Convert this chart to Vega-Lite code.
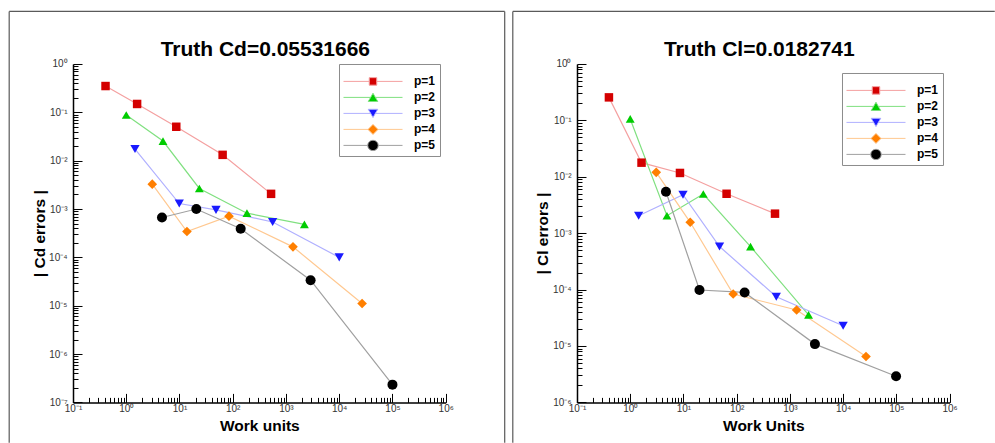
{
  "$schema": "https://vega.github.io/schema/vega-lite/v6.json",
  "background": "white",
  "autosize": {"type": "pad"},
  "padding": {"left": 8, "top": 10, "right": 0, "bottom": 0},
  "spacing": 6,
  "config": {
    "font": "Liberation Sans",
    "view": {"stroke": null},
    "axis": {
      "grid": false,
      "ticks": true,
      "tickOpacity": 1,
      "labelFont": "Liberation Sans",
      "labelFontSize": 10,
      "labelColor": "#333",
      "labelOverlap": false,
      "labelFlush": false,
      "labelBound": false,
      "tickColor": "#000",
      "tickWidth": 1,
      "domainColor": "#000",
      "domainWidth": 1.5,
      "titleFont": "Liberation Sans",
      "titleFontSize": 15.5,
      "titleFontWeight": "bold",
      "titleColor": "#000",
      "titleBaseline": "alphabetic"
    }
  },
  "resolve": {"scale": {"fill": "independent", "shape": "independent", "stroke": "independent", "size": "independent"}},
  "datasets": {
    "cd": [
      {"p": "p=1", "work": 0.408, "err": 0.35},
      {"p": "p=1", "work": 1.6, "err": 0.149},
      {"p": "p=1", "work": 8.7, "err": 0.0503},
      {"p": "p=1", "work": 64.6, "err": 0.0132},
      {"p": "p=1", "work": 525, "err": 0.00206},
      {"p": "p=2", "work": 1.0, "err": 0.088},
      {"p": "p=2", "work": 4.9, "err": 0.0255},
      {"p": "p=2", "work": 23.6, "err": 0.00266},
      {"p": "p=2", "work": 185, "err": 0.00082},
      {"p": "p=2", "work": 2218, "err": 0.00048},
      {"p": "p=3", "work": 1.46, "err": 0.0174},
      {"p": "p=3", "work": 9.9, "err": 0.0013},
      {"p": "p=3", "work": 48.5, "err": 0.00096},
      {"p": "p=3", "work": 562, "err": 0.00054},
      {"p": "p=3", "work": 10000, "err": 0.0001},
      {"p": "p=4", "work": 3.08, "err": 0.00327},
      {"p": "p=4", "work": 13.8, "err": 0.000342},
      {"p": "p=4", "work": 85, "err": 0.000713},
      {"p": "p=4", "work": 1355, "err": 0.000165},
      {"p": "p=4", "work": 26900, "err": 0.0000111},
      {"p": "p=5", "work": 4.69, "err": 0.000667},
      {"p": "p=5", "work": 20.7, "err": 0.001},
      {"p": "p=5", "work": 141, "err": 0.00039},
      {"p": "p=5", "work": 2900, "err": 0.0000337},
      {"p": "p=5", "work": 100000, "err": 2.33e-7}
    ],
    "cl": [
      {"p": "p=1", "work": 0.398, "err": 0.256},
      {"p": "p=1", "work": 1.63, "err": 0.0178},
      {"p": "p=1", "work": 8.6, "err": 0.0117},
      {"p": "p=1", "work": 64.6, "err": 0.005},
      {"p": "p=1", "work": 525, "err": 0.00222},
      {"p": "p=2", "work": 1.0, "err": 0.106},
      {"p": "p=2", "work": 4.9, "err": 0.00204},
      {"p": "p=2", "work": 23.6, "err": 0.00495},
      {"p": "p=2", "work": 182, "err": 0.00058},
      {"p": "p=2", "work": 2240, "err": 0.0000355},
      {"p": "p=3", "work": 1.44, "err": 0.00204},
      {"p": "p=3", "work": 9.8, "err": 0.0048},
      {"p": "p=3", "work": 47.6, "err": 0.00058},
      {"p": "p=3", "work": 555, "err": 0.0000748},
      {"p": "p=3", "work": 10000, "err": 0.0000229},
      {"p": "p=4", "work": 3.08, "err": 0.012},
      {"p": "p=4", "work": 13.4, "err": 0.00156},
      {"p": "p=4", "work": 86, "err": 0.0000836},
      {"p": "p=4", "work": 1337, "err": 0.0000435},
      {"p": "p=4", "work": 26900, "err": 0.0000065},
      {"p": "p=5", "work": 4.69, "err": 0.00544},
      {"p": "p=5", "work": 20, "err": 0.0000984},
      {"p": "p=5", "work": 141, "err": 0.0000891},
      {"p": "p=5", "work": 2950, "err": 0.0000108},
      {"p": "p=5", "work": 98800, "err": 0.0000029}
    ]
  },
  "hconcat": [
    {
      "width": 372.7,
      "height": 338.4,
      "title": {"text": "Truth Cd=0.05531666", "frame": "group", "anchor": "middle", "font": "Liberation Sans", "fontSize": 21, "fontWeight": "bold", "color": "#000", "offset": -48.75, "dx": 6},
      "resolve": {"axis": {"x": "independent", "y": "independent"}, "scale": {"fill": "independent", "shape": "independent", "stroke": "independent", "size": "independent"}},
      "layer": [
        {
          "data": {"name": "cd"},
          "mark": {"type": "line", "strokeWidth": 1.2},
          "encoding": {
            "x": {"field": "work", "type": "quantitative", "scale": {"type": "log", "domain": [0.1, 1000000], "nice": false},
              "axis": {
                "orient": "bottom", "title": "Work units", "titleY": 28.3,
                "values": [0.1, 1, 10, 100, 1000, 10000, 100000, 1000000],
                "labelExpr": "'10' + (round(log(datum.value)/LN10) < 0 ? '⁻' : '') + substring('⁰¹²³⁴⁵⁶⁷⁸⁹', abs(round(log(datum.value)/LN10)), abs(round(log(datum.value)/LN10)) + 1)",
                "labelPadding": 10,
                "ticks": true,
                "tickSize": -9
              }},
            "y": {"field": "err", "type": "quantitative", "scale": {"type": "log", "domain": [1e-7, 1], "nice": false},
              "axis": {
                "orient": "left", "title": "| Cd errors |", "titleX": -29,
                "values": [1e-7, 1e-6, 1e-5, 0.0001, 0.001, 0.01, 0.1, 1],
                "labelExpr": "'10' + (round(log(datum.value)/LN10) < 0 ? '⁻' : '') + substring('⁰¹²³⁴⁵⁶⁷⁸⁹', abs(round(log(datum.value)/LN10)), abs(round(log(datum.value)/LN10)) + 1)",
                "labelPadding": 15,
                "ticks": true,
                "tickSize": -9
              }},
            "stroke": {"field": "p", "type": "nominal", "scale": {"range": ["#f4a0a0","#80e080","#b0b0ff","#ffc890","#a0a0a0"]}, "legend": null}
          }
        },
        {
          "data": {"name": "cd"},
          "mark": {"type": "point", "filled": true, "opacity": 1},
          "encoding": {
            "x": {"field": "work", "type": "quantitative",
              "axis": {"orient": "bottom", "title": null, "labels": false, "domain": false, "ticks": true, "tickSize": -5,
                "values": [0.2,0.3,0.4,0.5,0.6,0.7,0.8,0.9,2,3,4,5,6,7,8,9,20,30,40,50,60,70,80,90,200,300,400,500,600,700,800,900,2000,3000,4000,5000,6000,7000,8000,9000,20000,30000,40000,50000,60000,70000,80000,90000,200000,300000,400000,500000,600000,700000,800000,900000]}},
            "y": {"field": "err", "type": "quantitative",
              "axis": {"orient": "left", "title": null, "labels": false, "domain": false, "ticks": true, "tickSize": -5,
                "values": [2e-7,3e-7,4e-7,5e-7,6e-7,7e-7,8e-7,9e-7,2e-6,3e-6,4e-6,5e-6,6e-6,7e-6,8e-6,9e-6,2e-5,3e-5,4e-5,5e-5,6e-5,7e-5,8e-5,9e-5,0.0002,0.0003,0.0004,0.0005,0.0006,0.0007,0.0008,0.0009,0.002,0.003,0.004,0.005,0.006,0.007,0.008,0.009,0.02,0.03,0.04,0.05,0.06,0.07,0.08,0.09,0.2,0.3,0.4,0.5,0.6,0.7,0.8,0.9]}},
            "fill": {"field": "p", "type": "nominal", "scale": {"range": ["#d40000","#00cc00","#1a1aff","#ff7f00","#000000"]}, "legend": null},
            "shape": {"field": "p", "type": "nominal", "scale": {"range": ["square","triangle-up","triangle-down","diamond","circle"]}, "legend": null},
            "size": {"field": "p", "type": "nominal", "scale": {"range": [72,100,110,110,121]}, "legend": null}
          }
        },
        {
          "data": {"name": "cd"},
          "transform": [{"filter": "datum.work < 0"}],
          "mark": {"type": "point", "filled": true, "opacity": 1},
          "encoding": {
            "x": {"field": "work", "type": "quantitative", "axis": null},
            "y": {"field": "err", "type": "quantitative", "axis": null},
            "fill": {"field": "p", "type": "nominal", "scale": {"domain": ["p=1","p=2","p=3","p=4","p=5"], "range": ["#d40000","#00cc00","#1a1aff","#ff7f00","#000000"]},
              "legend": {
                "orient": "none", "legendX": 266, "legendY": 0,
                "title": " ", "titleFontSize": 4, "titlePadding": 3.4,
                "padding": 4, "rowPadding": 4, "clipHeight": 12,
                "labelFont": "Liberation Sans", "labelFontSize": 12, "labelFontWeight": "bold", "labelColor": "#000", "labelOffset": 11,
                "symbolSize": 3481, "symbolStrokeWidth": 1, "symbolOffset": 0, "symbolOpacity": 1,
                "strokeColor": "#8c8c8c", "fillColor": "#ffffff"
              }},
            "stroke": {"field": "p", "type": "nominal", "scale": {"domain": ["p=1","p=2","p=3","p=4","p=5"], "range": ["#f4a0a0","#80e080","#b0b0ff","#ffc890","#a0a0a0"]}},
            "shape": {"field": "p", "type": "nominal", "scale": {"domain": ["p=1","p=2","p=3","p=4","p=5"], "range": [
              "M-1,0H-0.127M0.127,0H1M-0.127,-0.127H0.127V0.127H-0.127Z",
              "M-1,0H-0.08M0.08,0H1M0,-0.139L0.161,0.139L-0.161,0.139Z",
              "M-1,0H-0.08M0.08,0H1M0,0.139L0.161,-0.139L-0.161,-0.139Z",
              "M-1,0H-0.17M0.17,0H1M0,-0.17L0.17,0L0,0.17L-0.17,0Z",
              "M-1,0H-0.178M0.178,0H1M0.178,0C0.178,0.0983,0.0983,0.178,0,0.178C-0.0983,0.178,-0.178,0.0983,-0.178,0C-0.178,-0.0983,-0.0983,-0.178,0,-0.178C0.0983,-0.178,0.178,-0.0983,0.178,0Z"]}}
          }
        },
        {
          "data": {"values": [{}]},
          "mark": {"type": "rule", "color": "#5a5a5a", "strokeWidth": 1.2},
          "encoding": {
            "x": {"datum": 0.00633, "type": "quantitative", "axis": null},
            "x2": {"datum": 12830000},
            "y": {"datum": 12.25, "type": "quantitative", "axis": null}
          }
        },
        {
          "data": {"values": [{}]},
          "mark": {"type": "rule", "color": "#5a5a5a", "strokeWidth": 1.2},
          "encoding": {
            "x": {"datum": 0.00633, "type": "quantitative", "axis": null},
            "y": {"datum": 12.25, "type": "quantitative", "axis": null},
            "y2": {"datum": 1.466e-8}
          }
        },
        {
          "data": {"values": [{}]},
          "mark": {"type": "rule", "color": "#5a5a5a", "strokeWidth": 1.2},
          "encoding": {
            "x": {"datum": 12830000, "type": "quantitative", "axis": null},
            "y": {"datum": 12.25, "type": "quantitative", "axis": null},
            "y2": {"datum": 1.466e-8}
          }
        }
      ]
    },
    {
      "width": 372.6,
      "height": 338.4,
      "title": {"text": "Truth Cl=0.0182741", "frame": "group", "anchor": "middle", "font": "Liberation Sans", "fontSize": 21, "fontWeight": "bold", "color": "#000", "offset": -48.75, "dx": -4},
      "resolve": {"axis": {"x": "independent", "y": "independent"}, "scale": {"fill": "independent", "shape": "independent", "stroke": "independent", "size": "independent"}},
      "layer": [
        {
          "data": {"name": "cl"},
          "mark": {"type": "line", "strokeWidth": 1.2},
          "encoding": {
            "x": {"field": "work", "type": "quantitative", "scale": {"type": "log", "domain": [0.1, 1000000], "nice": false},
              "axis": {
                "orient": "bottom", "title": "Work Units", "titleY": 28.3,
                "values": [0.1, 1, 10, 100, 1000, 10000, 100000, 1000000],
                "labelExpr": "'10' + (round(log(datum.value)/LN10) < 0 ? '⁻' : '') + substring('⁰¹²³⁴⁵⁶⁷⁸⁹', abs(round(log(datum.value)/LN10)), abs(round(log(datum.value)/LN10)) + 1)",
                "labelPadding": 10,
                "ticks": true,
                "tickSize": -9
              }},
            "y": {"field": "err", "type": "quantitative", "scale": {"type": "log", "domain": [1e-6, 1], "nice": false},
              "axis": {
                "orient": "left", "title": "| Cl errors |", "titleX": -29,
                "values": [1e-6, 1e-5, 0.0001, 0.001, 0.01, 0.1, 1],
                "labelExpr": "'10' + (round(log(datum.value)/LN10) < 0 ? '⁻' : '') + substring('⁰¹²³⁴⁵⁶⁷⁸⁹', abs(round(log(datum.value)/LN10)), abs(round(log(datum.value)/LN10)) + 1)",
                "labelPadding": 15,
                "ticks": true,
                "tickSize": -9
              }},
            "stroke": {"field": "p", "type": "nominal", "scale": {"range": ["#f4a0a0","#80e080","#b0b0ff","#ffc890","#a0a0a0"]}, "legend": null}
          }
        },
        {
          "data": {"name": "cl"},
          "mark": {"type": "point", "filled": true, "opacity": 1},
          "encoding": {
            "x": {"field": "work", "type": "quantitative",
              "axis": {"orient": "bottom", "title": null, "labels": false, "domain": false, "ticks": true, "tickSize": -5,
                "values": [0.2,0.3,0.4,0.5,0.6,0.7,0.8,0.9,2,3,4,5,6,7,8,9,20,30,40,50,60,70,80,90,200,300,400,500,600,700,800,900,2000,3000,4000,5000,6000,7000,8000,9000,20000,30000,40000,50000,60000,70000,80000,90000,200000,300000,400000,500000,600000,700000,800000,900000]}},
            "y": {"field": "err", "type": "quantitative",
              "axis": {"orient": "left", "title": null, "labels": false, "domain": false, "ticks": true, "tickSize": -5,
                "values": [2e-6,3e-6,4e-6,5e-6,6e-6,7e-6,8e-6,9e-6,2e-5,3e-5,4e-5,5e-5,6e-5,7e-5,8e-5,9e-5,0.0002,0.0003,0.0004,0.0005,0.0006,0.0007,0.0008,0.0009,0.002,0.003,0.004,0.005,0.006,0.007,0.008,0.009,0.02,0.03,0.04,0.05,0.06,0.07,0.08,0.09,0.2,0.3,0.4,0.5,0.6,0.7,0.8,0.9]}},
            "fill": {"field": "p", "type": "nominal", "scale": {"range": ["#d40000","#00cc00","#1a1aff","#ff7f00","#000000"]}, "legend": null},
            "shape": {"field": "p", "type": "nominal", "scale": {"range": ["square","triangle-up","triangle-down","diamond","circle"]}, "legend": null},
            "size": {"field": "p", "type": "nominal", "scale": {"range": [72,100,110,110,121]}, "legend": null}
          }
        },
        {
          "data": {"name": "cl"},
          "transform": [{"filter": "datum.work < 0"}],
          "mark": {"type": "point", "filled": true, "opacity": 1},
          "encoding": {
            "x": {"field": "work", "type": "quantitative", "axis": null},
            "y": {"field": "err", "type": "quantitative", "axis": null},
            "fill": {"field": "p", "type": "nominal", "scale": {"domain": ["p=1","p=2","p=3","p=4","p=5"], "range": ["#d40000","#00cc00","#1a1aff","#ff7f00","#000000"]},
              "legend": {
                "orient": "none", "legendX": 265, "legendY": 9,
                "title": " ", "titleFontSize": 4, "titlePadding": 3.4,
                "padding": 4, "rowPadding": 4, "clipHeight": 12,
                "labelFont": "Liberation Sans", "labelFontSize": 12, "labelFontWeight": "bold", "labelColor": "#000", "labelOffset": 11,
                "symbolSize": 3481, "symbolStrokeWidth": 1, "symbolOffset": 0, "symbolOpacity": 1,
                "strokeColor": "#8c8c8c", "fillColor": "#ffffff"
              }},
            "stroke": {"field": "p", "type": "nominal", "scale": {"domain": ["p=1","p=2","p=3","p=4","p=5"], "range": ["#f4a0a0","#80e080","#b0b0ff","#ffc890","#a0a0a0"]}},
            "shape": {"field": "p", "type": "nominal", "scale": {"domain": ["p=1","p=2","p=3","p=4","p=5"], "range": [
              "M-1,0H-0.127M0.127,0H1M-0.127,-0.127H0.127V0.127H-0.127Z",
              "M-1,0H-0.08M0.08,0H1M0,-0.139L0.161,0.139L-0.161,0.139Z",
              "M-1,0H-0.08M0.08,0H1M0,0.139L0.161,-0.139L-0.161,-0.139Z",
              "M-1,0H-0.17M0.17,0H1M0,-0.17L0.17,0L0,0.17L-0.17,0Z",
              "M-1,0H-0.178M0.178,0H1M0.178,0C0.178,0.0983,0.0983,0.178,0,0.178C-0.0983,0.178,-0.178,0.0983,-0.178,0C-0.178,-0.0983,-0.0983,-0.178,0,-0.178C0.0983,-0.178,0.178,-0.0983,0.178,0Z"]}}
          }
        },
        {
          "data": {"values": [{}]},
          "mark": {"type": "rule", "color": "#5a5a5a", "strokeWidth": 1.2},
          "encoding": {
            "x": {"datum": 0.00622, "type": "quantitative", "axis": null},
            "x2": {"datum": 7060000},
            "y": {"datum": 8.56, "type": "quantitative", "axis": null}
          }
        },
        {
          "data": {"values": [{}]},
          "mark": {"type": "rule", "color": "#5a5a5a", "strokeWidth": 1.2},
          "encoding": {
            "x": {"datum": 0.00622, "type": "quantitative", "axis": null},
            "y": {"datum": 8.56, "type": "quantitative", "axis": null},
            "y2": {"datum": 1.93e-7}
          }
        }
      ]
    }
  ]
}
